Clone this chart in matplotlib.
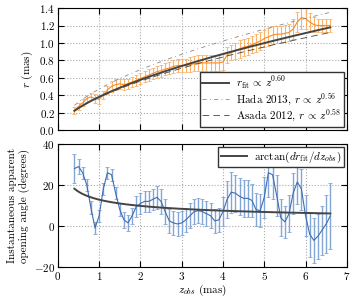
import numpy as np
import matplotlib
matplotlib.use("Agg")
import matplotlib.pyplot as plt

plt.rcParams['font.family'] = 'serif'
plt.rcParams['font.serif'] = ['cmr10']
plt.rcParams['mathtext.fontset'] = 'cm'
plt.rcParams['axes.formatter.use_mathtext'] = True
plt.rcParams['font.size'] = 8

# observed positions along the jet (mas)
z_obs = np.round(np.arange(0.4, 6.61, 0.1), 1)

# jet radius and its error (mas)
r_obs = [0.22, 0.27, 0.31, 0.36, 0.38, 0.36, 0.35, 0.40, 0.46, 0.50,
         0.52, 0.53, 0.52, 0.53, 0.55, 0.57, 0.59, 0.61, 0.63, 0.65,
         0.67, 0.68, 0.70, 0.71, 0.73, 0.74, 0.74, 0.74, 0.75, 0.76,
         0.77, 0.77, 0.77, 0.77, 0.77, 0.77, 0.78, 0.86, 0.89, 0.91,
         0.93, 0.95, 0.96, 0.98, 1.00, 1.02, 1.05, 1.07, 1.09, 1.10,
         1.10, 1.11, 1.12, 1.16, 1.24, 1.29, 1.28, 1.24, 1.21, 1.20,
         1.20, 1.20, 1.20]
r_err = [0.04, 0.04, 0.04, 0.04, 0.04, 0.05, 0.05, 0.05, 0.05, 0.06,
         0.06, 0.06, 0.06, 0.06, 0.06, 0.06, 0.06, 0.065, 0.065, 0.065,
         0.07, 0.07, 0.07, 0.07, 0.075, 0.075, 0.08, 0.08, 0.085, 0.085,
         0.09, 0.09, 0.09, 0.09, 0.09, 0.09, 0.09, 0.09, 0.09, 0.09,
         0.1, 0.1, 0.1, 0.1, 0.1, 0.1, 0.1, 0.1, 0.1, 0.1,
         0.1, 0.1, 0.1, 0.11, 0.12, 0.13, 0.12, 0.1, 0.09, 0.08,
         0.08, 0.08, 0.08]

# instantaneous opening angle and error (degrees)
ang = [28, 29, 26, 20, 9, -1, 5, 18, 26, 25,
       16, 8, 3, 1.5, 5, 9.5, 11, 12, 12, 13,
       14, 12, 7, 2.5, 1.5, 1, 1.5, 3, 5, 7,
       7.5, 7, 6, 5, 2.5, 3, 7, 13, 16.5, 16,
       14.5, 13.5, 13.5, 12.5, 8, 7.5, 14, 26, 25, 15,
       4, 2, 6, 16, 21.5, 18, 5, -4, -7, -5,
       -2, 1, 5]
ang_err = [7, 3.5, 3, 3, 3, 3, 3, 3, 3, 3,
           3, 3, 4, 4, 4, 5, 5, 5, 5, 5,
           5.5, 6, 6, 6, 6, 6, 6, 6, 6, 6,
           6, 6, 6, 6, 6, 6, 7, 9, 10, 9,
           9, 9, 9, 8, 8, 8, 10, 12, 12, 10,
           9, 8, 9, 10, 11, 10, 10, 11, 11, 11,
           12, 14, 16]

# power-law models r = A z^k
fit_A, fit_k = 0.38, 0.60
hada_A, hada_k = 0.47, 0.56
asada_A, asada_k = 0.375, 0.58

zz = np.linspace(0.4, 6.6, 200)
r_fit = fit_A * zz**fit_k
r_hada = hada_A * zz**hada_k
r_asada = asada_A * zz**asada_k
ang_fit = np.degrees(np.arctan(fit_k * fit_A * zz**(fit_k - 1)))

fig = plt.figure(figsize=(3.55, 3.0), dpi=100)
ax1 = fig.add_axes([0.163, 0.567, 0.814, 0.406])
ax2 = fig.add_axes([0.163, 0.110, 0.814, 0.410], sharex=ax1)

ax1.errorbar(z_obs, r_obs, yerr=r_err, color='#ff8a1c', ecolor='#fbb36a',
             lw=0.8, elinewidth=0.8, capsize=1.5, capthick=0.6, zorder=2)
ax1.plot(zz, r_fit, color='#444444', lw=1.4, zorder=3,
         label=r'$r_{\rm fit}\,\propto\,z^{0.60}$')
ax1.plot(zz, r_hada, color='#888888', lw=0.6, ls=(0, (5, 4, 1, 4)), zorder=3,
         label=r'Hada 2013, $r\,\propto\,z^{0.56}$')
ax1.plot(zz, r_asada, color='#444444', lw=0.6, ls=(0, (8, 5)), zorder=3,
         label=r'Asada 2012, $r\,\propto\,z^{0.58}$')
ax1.set_ylim(0, 1.4)
ax1.set_yticks(np.arange(0, 1.41, 0.2))
ax1.set_ylabel(r'$r$ (mas)', labelpad=3)
ax1.legend(loc='lower right', fancybox=False, edgecolor='#333333',
           framealpha=1, handlelength=2.4, handletextpad=0.6, borderpad=0.25,
           labelspacing=0.0, borderaxespad=0.3)
plt.setp(ax1.get_xticklabels(), visible=False)

ax2.errorbar(z_obs, ang, yerr=ang_err, color='#3c6eb4', ecolor='#84a6d4',
             lw=0.8, elinewidth=1.0, capsize=1.5, capthick=0.6, zorder=2)
ax2.plot(zz, ang_fit, color='#444444', lw=1.4, zorder=3,
         label=r'$\arctan(dr_{\rm fit}/dz_{obs})$')
ax2.set_ylim(-20, 40)
ax2.set_xlim(0, 7)
ax2.set_ylabel('Instantaneous apparent\nopening angle (degrees)', labelpad=3)
ax2.set_xlabel(r'$z_{obs}$ (mas)', labelpad=1)
ax2.legend(loc='upper right', fancybox=False, edgecolor='#333333',
           framealpha=1, handlelength=2.4, handletextpad=0.6, borderpad=0.2,
           borderaxespad=0.3)

for ax in (ax1, ax2):
    ax.grid(True, ls=':', color='#aaaaaa', lw=0.8)
    ax.tick_params(direction='in', top=True, right=True, length=4, pad=2)
    ax.set_axisbelow(True)

fig.savefig('out.png', dpi=100)
